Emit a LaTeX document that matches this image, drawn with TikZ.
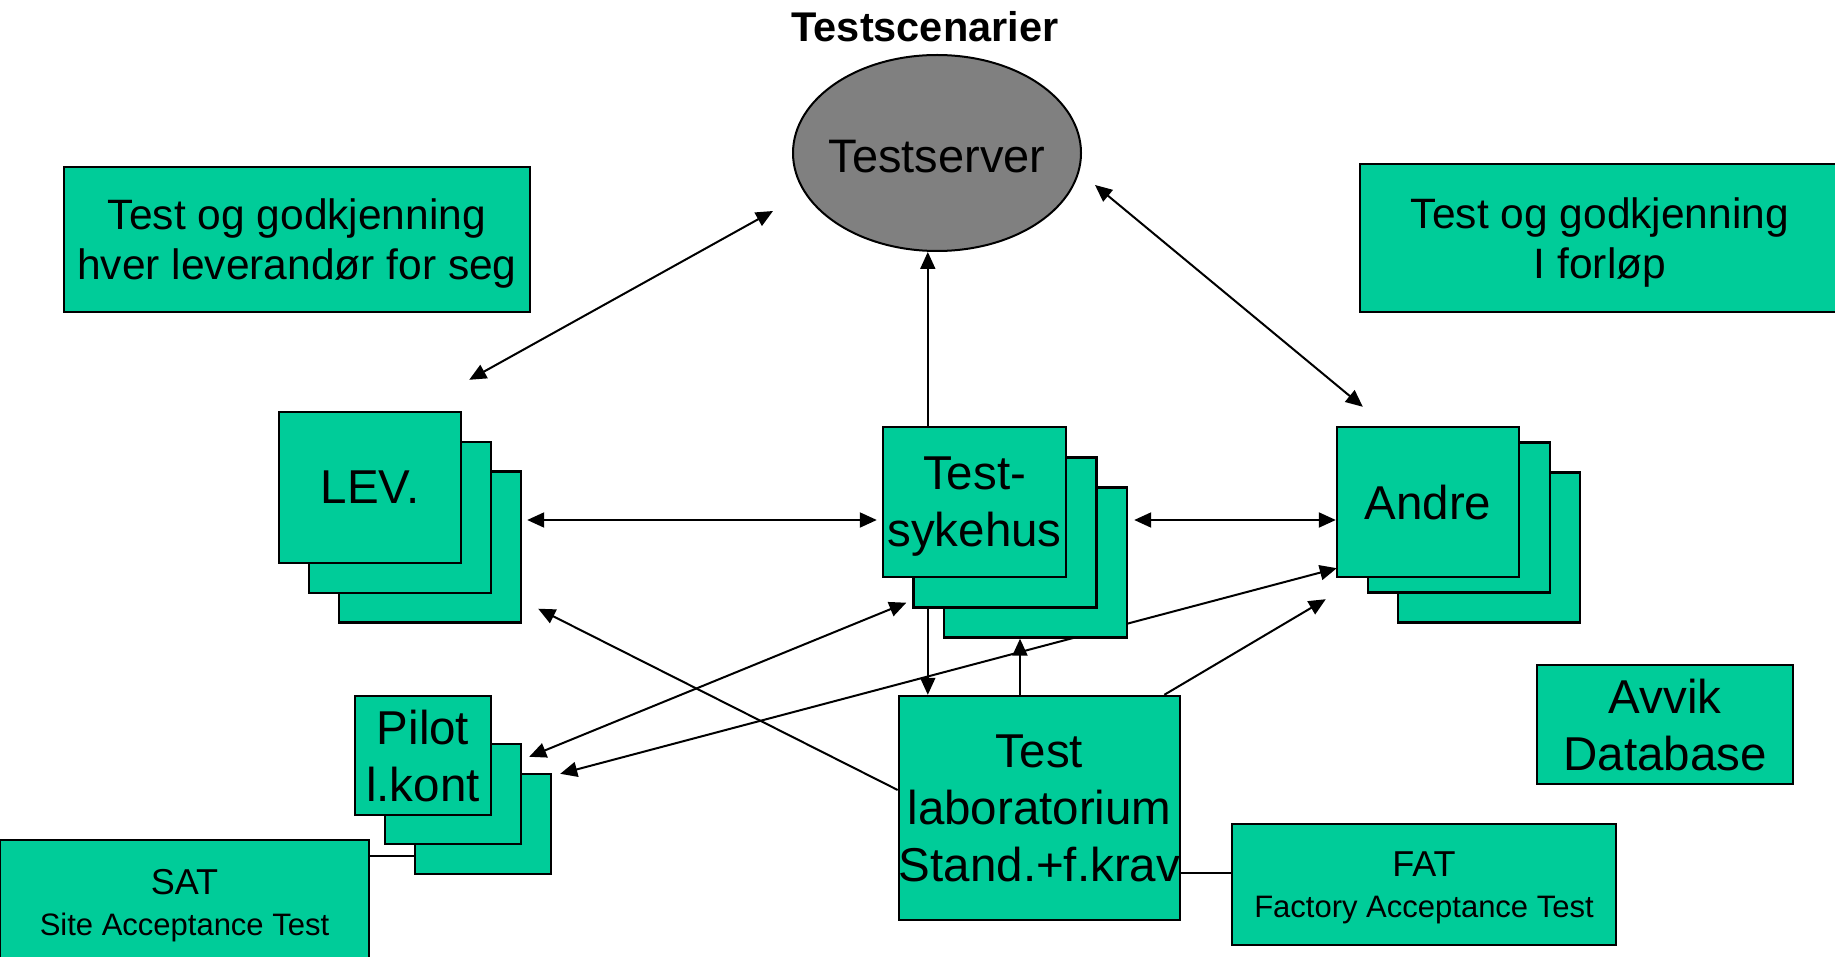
\documentclass[tikz,border=0pt]{standalone}
\usepackage{fontspec}
\setmainfont{Liberation Sans}
\usetikzlibrary{arrows.meta,positioning,calc,shapes.geometric,backgrounds}
\definecolor{boxgreen}{HTML}{00CC99}
\definecolor{servergrey}{HTML}{808080}

\begin{document}
\begin{tikzpicture}[
  x=1pt,y=-1pt,
  >={Triangle[length=17pt,width=15pt]},
  box/.style={draw=black,fill=boxgreen,line width=2.4pt,inner sep=0pt,align=center,text depth=0pt,font=\fontsize{47.5}{57}\selectfont},
  note/.style={box,font=\fontsize{42.5}{50}\selectfont},
  acc/.style={box,font=\fontsize{31}{41}\selectfont},
  levbox/.style={box,minimum width=182pt,minimum height=151pt},
  sykbox/.style={box,minimum width=183pt,minimum height=150pt},
  pilotbox/.style={box,minimum width=136pt,minimum height=100pt},
  wire/.style={line width=2pt},
]
  \useasboundingbox (0,0) rectangle (1835,957);
  \clip (0,0) rectangle (1835,957);

  % Test server and its heading
  \node[ellipse,draw=black,fill=servergrey,line width=2pt,minimum width=288pt,minimum height=196pt,inner xsep=-10pt,inner ysep=0pt,text height=40pt,font=\fontsize{47}{56}\selectfont] (server) at (937,153) {Testserver};
  \node[above=12pt of server,xshift=-12pt,inner sep=0pt,font=\fontsize{41.5}{48}\selectfont\bfseries] (title) {Testscenarier};

  % Notes at the top
  \node[note,minimum width=466pt,minimum height=145pt] (solo) at (297,239.5) {Test og godkjenning\\hver leverandør for seg};
  \node[note,minimum width=480pt,minimum height=148pt] (ongoing) at (1600,238) {Test og godkjenning\\I forløp};

  % LEV stack
  \node[levbox] (lev3) at (430,547) {};
  \node[levbox] (lev2) at (400,517.5) {};
  \node[levbox] (lev) at (370,487.5) {LEV.};

  % Test hospital stack
  \node[sykbox] (sykehus3) at (1035.5,562.5) {};
  \node[sykbox] (sykehus2) at (1005,532.5) {};
  \node[sykbox] (sykehus) at (974.5,502) {Test-\\sykehus};

  % Others stack
  \node[levbox,minimum height=150pt] (andre3) at (1489,547.5) {};
  \node[levbox,minimum height=150pt] (andre2) at (1459,517.5) {};
  \node[levbox,minimum height=150pt] (andre) at (1428,502) {Andre};

  % Pilot stack
  \node[pilotbox] (pilot3) at (483,824) {};
  \node[pilotbox] (pilot2) at (453,794) {};
  \node[pilotbox,minimum height=119pt] (pilot) at (423,755.5) {Pilot\\l.kont};

  % Lab, deviations and acceptance tests
  \node[box,minimum width=281pt,minimum height=224pt] (lab) at (1039.5,808) {Test\\laboratorium\\Stand.+f.krav};
  \node[box,minimum width=256pt,minimum height=119pt] (avvik) at (1665,724.5) {Avvik\\Database};
  \node[acc,minimum width=369pt,minimum height=124pt] (sat) at (184.5,902) {{\fontsize{36}{41}\selectfont SAT}\\Site Acceptance Test};
  \node[acc,minimum width=384pt,minimum height=121pt] (fat) at (1424,884.5) {{\fontsize{36}{41}\selectfont FAT}\\Factory Acceptance Test};

  \begin{scope}[on background layer]
    % to and from the server
    \coordinate (upline) at ($(sykehus.north west)+(46,0)$);
    \draw[wire,<->] ($(lev.north east)+(7,-31)$) -- ($(server.west)+(-19,58)$);
    \draw[wire,->] (upline) -- (upline |- server.south);
    \draw[wire,<->] ($(server.east)+(13,32)$) -- ($(andre.north west)+(27,-19)$);

    % middle row
    \draw[wire,<->] ($(lev3.east)+(5,-27)$) -- ($(sykehus.west)+(-5,18)$);
    \draw[wire,<->] ($(sykehus3.east)+(6,-42.5)$) -- ($(andre.west)+(0,18)$);

    % from the lab
    \coordinate (labup) at ($(lab.north)+(-19.5,0)$);
    \draw[wire,->] ($(lab.west)+(0,-18)$) -- ($(lev3.south east)+(16,-15)$);
    \draw[wire,->] (upline |- sykehus2.south) -- (upline |- lab.north);
    \draw[wire,->] (labup) -- (labup |- sykehus3.south);
    \draw[wire,->] ($(lab.north east)+(-17,0)$) -- ($(andre.south west)+(-10,21)$);

    % pilot links
    \draw[wire,<->] ($(pilot2.north east)+(7,14)$) -- ($(sykehus2.south west)+(-6,-6)$);
    \draw[wire,<->] ($(pilot3.north east)+(8,1)$) -- ($(andre.south west)+(1,-10)$);

    % plain joins
    \coordinate (satjoin) at ($(sat.north east)+(0,17)$);
    \coordinate (fatjoin) at ($(fat.west)+(0,-12)$);
    \draw[wire] (satjoin) -- (satjoin -| pilot3.west);
    \draw[wire] (fatjoin) -- (fatjoin -| lab.east);
  \end{scope}
\end{tikzpicture}
\end{document}
